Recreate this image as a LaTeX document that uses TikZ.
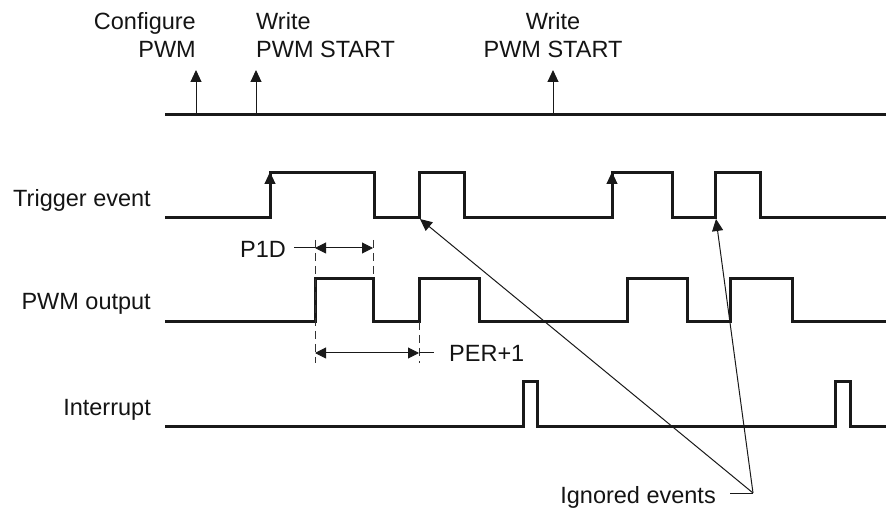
\documentclass[tikz,border=0pt]{standalone}
\usepackage{fontspec}
\setmainfont{Liberation Sans}
\usetikzlibrary{arrows.meta}
\begin{document}
\begin{tikzpicture}[x=1pt,y=-1pt,
  txt/.style={font=\fontsize{23.5}{28}\selectfont, text=black!92, inner sep=0pt},
  sig/.style={line width=3pt, draw=black!90, line join=miter},
  thin/.style={line width=1pt, draw=black!90},
  tri/.style={-{Triangle[width=11pt,length=12pt]}},
  dtri/.style={{Triangle[width=11pt,length=11pt]}-{Triangle[width=11pt,length=11pt]}},
  dsh/.style={line width=0.9pt, draw=black!80, dash pattern=on 8pt off 5pt}]
\useasboundingbox (0,0) rectangle (886,510);

% ---- top event line ----
\coordinate (t0) at (165,115);
\coordinate (t1) at (886,115);
\draw[sig] (t0) -- (t1);
\coordinate (a1b) at (196,115); \coordinate (a1t) at (196,70);
\coordinate (a2b) at (256,115); \coordinate (a2t) at (256,70);
\coordinate (a3b) at (553,115); \coordinate (a3t) at (553,70);
\draw[thin,tri] (a1b) -- (a1t);
\draw[thin,tri] (a2b) -- (a2t);
\draw[thin,tri] (a3b) -- (a3t);
\node[txt,anchor=base east] (cfg1) at (196,30) {Configure};
\node[txt,anchor=base east] (cfg2) at (196,58) {PWM};
\node[txt,anchor=base west] (wr1) at (256,30) {Write};
\node[txt,anchor=base west] (wr2) at (256,58) {PWM START};
\node[txt,anchor=base] (wr3) at (553,30) {Write};
\node[txt,anchor=base] (wr4) at (553,58) {PWM START};

% ---- signal labels ----
\node[txt,anchor=base east] (lt) at (151,207) {Trigger event};
\node[txt,anchor=base east] (lp) at (151,310) {PWM output};
\node[txt,anchor=base east] (li) at (151,415) {Interrupt};

% ---- trigger event ----
\draw[sig] (165,218) -- (270,218) -- (270,173) -- (374,173) -- (374,218)
  -- (419,218) -- (419,173) -- (464,173) -- (464,218) -- (612,218)
  -- (612,173) -- (672,173) -- (672,218) -- (715,218) -- (715,173)
  -- (760,173) -- (760,218) -- (886,218);
\coordinate (r1b) at (270,200); \coordinate (r1t) at (270,172);
\coordinate (r2b) at (612,200); \coordinate (r2t) at (612,172);
\draw[thin,tri] (r1b) -- (r1t);
\draw[thin,tri] (r2b) -- (r2t);

% ---- PWM output ----
\draw[sig] (165,322) -- (315,322) -- (315,279) -- (373,279) -- (373,322)
  -- (419,322) -- (419,279) -- (479,279) -- (479,322) -- (627,322)
  -- (627,279) -- (687,279) -- (687,322) -- (730,322) -- (730,279)
  -- (792,279) -- (792,322) -- (886,322);

% ---- interrupt ----
\draw[sig] (165,426) -- (523,426) -- (523,382) -- (537,382) -- (537,426)
  -- (835,426) -- (835,382) -- (850,382) -- (850,426) -- (886,426);

% ---- dimension lines ----
\coordinate (d1t) at (315,240); \coordinate (d1b) at (315,363);
\coordinate (d2t) at (373,240); \coordinate (d2b) at (373,279);
\coordinate (d3t) at (419,322); \coordinate (d3b) at (419,363);
\draw[dsh] (d1t) -- (d1b);
\draw[dsh] (d2t) -- (d2b);
\draw[dsh] (d3t) -- (d3b);

\coordinate (p1a) at (315,248); \coordinate (p1b) at (373,248);
\coordinate (p1l) at (294,248);
\draw[thin,dtri] (p1a) -- (p1b);
\draw[thin] (p1l) -- (p1a);
\node[txt,anchor=base east] (p1d) at (286,258) {P1D};

\coordinate (pra) at (315,353); \coordinate (prb) at (419,353);
\coordinate (prl) at (434,353);
\draw[thin,dtri] (pra) -- (prb);
\draw[thin] (prb) -- (prl);
\node[txt,anchor=base west] (per) at (449,362) {PER+1};

% ---- ignored events ----
\node[txt,anchor=base east] (ign) at (716,503) {Ignored events};
\coordinate (ic) at (753,493);
\coordinate (il) at (730,493);
\coordinate (ie1) at (420,219);
\coordinate (ie2) at (716,219);
\draw[thin] (il) -- (ic);
\draw[thin,tri] (ic) -- (ie1);
\draw[thin,tri] (ic) -- (ie2);
\end{tikzpicture}
\end{document}
